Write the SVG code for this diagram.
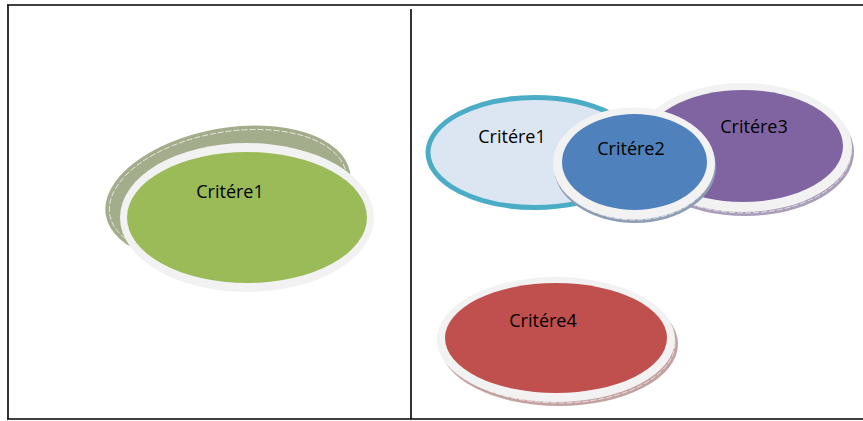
<svg xmlns="http://www.w3.org/2000/svg" width="863" height="421" viewBox="0 0 863 421">
  <style>
    .frame { stroke: #000; stroke-width: 1.6; fill: none; }
    .ring { fill: #f2f2f2; }
    .label { font-family: "Open Sans", "Liberation Sans", sans-serif; font-size: 18px; fill: #000; text-anchor: middle; }
    .hilite { fill: none; stroke: #fff; stroke-width: 0.8; stroke-dasharray: 6 2; opacity: 0.85; }
  </style>
  <rect width="863" height="421" fill="#fff"/>

  <!-- table frame -->
  <g id="frame">
    <line class="frame" x1="7" y1="5" x2="863" y2="5"/>
    <line class="frame" x1="8" y1="5" x2="8" y2="419"/>
    <line class="frame" x1="7" y1="419" x2="863" y2="419"/>
    <line class="frame" x1="411" y1="9" x2="411" y2="419"/>
  </g>

  <!-- left cell: stacked criterion -->
  <g id="left-critere1">
    <g transform="rotate(-10 228 194)">
      <ellipse cx="228" cy="194" rx="124" ry="66" fill="#a4ad8b"/>
      <ellipse class="hilite" cx="228" cy="194" rx="120" ry="62"/>
    </g>
    <ellipse class="ring" cx="247" cy="217.5" rx="127" ry="74.5"/>
    <ellipse cx="247" cy="217.5" rx="120" ry="65.5" fill="#9bbb59"/>
    <text class="label" x="230" y="198">Critére1</text>
  </g>

  <!-- right cell -->
  <g id="critere1">
    <ellipse cx="535" cy="152.5" rx="107" ry="55" fill="#dce6f2" stroke="#4bacc6" stroke-width="5"/>
    <text class="label" x="512" y="143">Critére1</text>
  </g>

  <g id="critere3">
    <ellipse cx="745" cy="152" rx="109" ry="64" fill="#a99db8"/>
    <ellipse class="hilite" cx="745" cy="151" rx="106" ry="62"/>
    <ellipse class="ring" cx="743" cy="147.5" rx="109" ry="64.5"/>
    <ellipse cx="743" cy="146" rx="100" ry="56" fill="#8064a2"/>
    <text class="label" x="754" y="133">Critére3</text>
  </g>

  <g id="critere2">
    <ellipse cx="635" cy="167" rx="81" ry="56" fill="#8d9db3"/>
    <ellipse class="hilite" cx="635" cy="166" rx="78" ry="54"/>
    <ellipse class="ring" cx="634" cy="163.5" rx="81" ry="56"/>
    <ellipse cx="634.5" cy="162" rx="72.5" ry="48" fill="#4f81bd"/>
    <text class="label" x="631" y="155">Critére2</text>
  </g>

  <g id="critere4">
    <ellipse cx="559" cy="344" rx="119" ry="62" fill="#c4a1a1"/>
    <ellipse class="hilite" cx="559" cy="343" rx="116" ry="60"/>
    <ellipse class="ring" cx="556" cy="339.5" rx="119" ry="62.5"/>
    <ellipse cx="556" cy="338" rx="111" ry="55" fill="#c0504d"/>
    <text class="label" x="543" y="327">Critére4</text>
  </g>
</svg>
